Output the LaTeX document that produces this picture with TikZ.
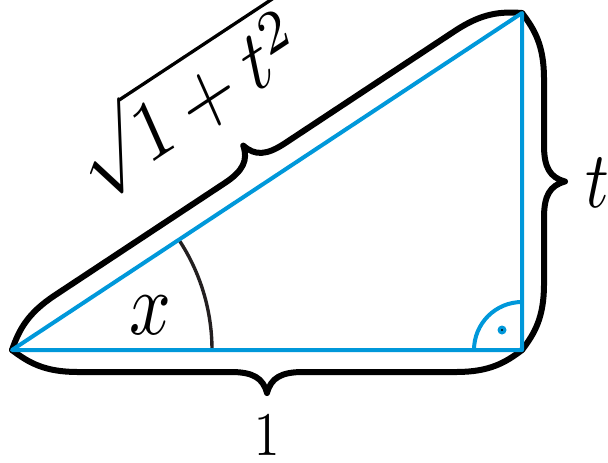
\documentclass[tikz,border=0pt]{standalone}
\definecolor{triblue}{RGB}{0,152,218}
\definecolor{arcgray}{RGB}{35,31,32}
\tikzset{
  side/.style={draw=triblue, line width=1pt},
  bracestyle/.style={draw=black, line width=1.5pt, line join=round, line cap=round},
  anglearc/.style={draw=arcgray, line width=0.85pt},
  lbl/.style={inner sep=0pt},
}
% curly brace from coordinate #1, rotated by #2, of length #3 (bulge on the left)
\newcommand{\drawcurlybrace}[3]{%
  \begin{scope}[shift={(#1)}, rotate=#2]
    \draw[bracestyle] (0,0) .. controls (17,13) and (33,22) .. (66,22)
      -- ({#3/2-36},22) .. controls ({#3/2-14},22) and ({#3/2-4},28) .. ({#3/2},43)
      .. controls ({#3/2+4},28) and ({#3/2+14},22) .. ({#3/2+36},22)
      -- ({#3-66},22) .. controls ({#3-33},22) and ({#3-17},13) .. (#3,0);
  \end{scope}}
\begin{document}
\begin{tikzpicture}[x=0.25pt, y=0.25pt]
\clip (0,0) rectangle (608,462);
\coordinate (A) at (12,112);
\coordinate (B) at (522,112);
\coordinate (C) at (522,449);
\coordinate (Ar) at (212,112);
\coordinate (Br) at (474,112);
% braces
\drawcurlybrace{A}{33.46}{611.3}
\drawcurlybrace{C}{-90}{337}
\drawcurlybrace{B}{180}{510}
% angle x
\draw[anglearc] (Ar) arc[start angle=0, end angle=33.46, radius=200];
% right angle
\draw[side] (Br) arc[start angle=180, end angle=90, radius=48];
\fill[triblue] (502,132) circle[radius=4.5];
\fill[black] (502,132) circle[radius=1.1];
% triangle
\draw[side, line join=round] (A) -- (B) -- (C) -- cycle;
% labels
\node[lbl] (lx) at (150,147) [xscale=1.83, yscale=2.23] {$x$};
\node[lbl] (lone) at (267.5,26) [xscale=1.27, yscale=1.55] {$1$};
\node[lbl] (lt) at (597,279.5) [xscale=1.64, yscale=2.0] {$t$};
\node[lbl] (lsq) at (188,362) [yscale=1.22, rotate=28.4, scale=1.78] {$\sqrt{1+t^2}$};
\end{tikzpicture}
\end{document}
